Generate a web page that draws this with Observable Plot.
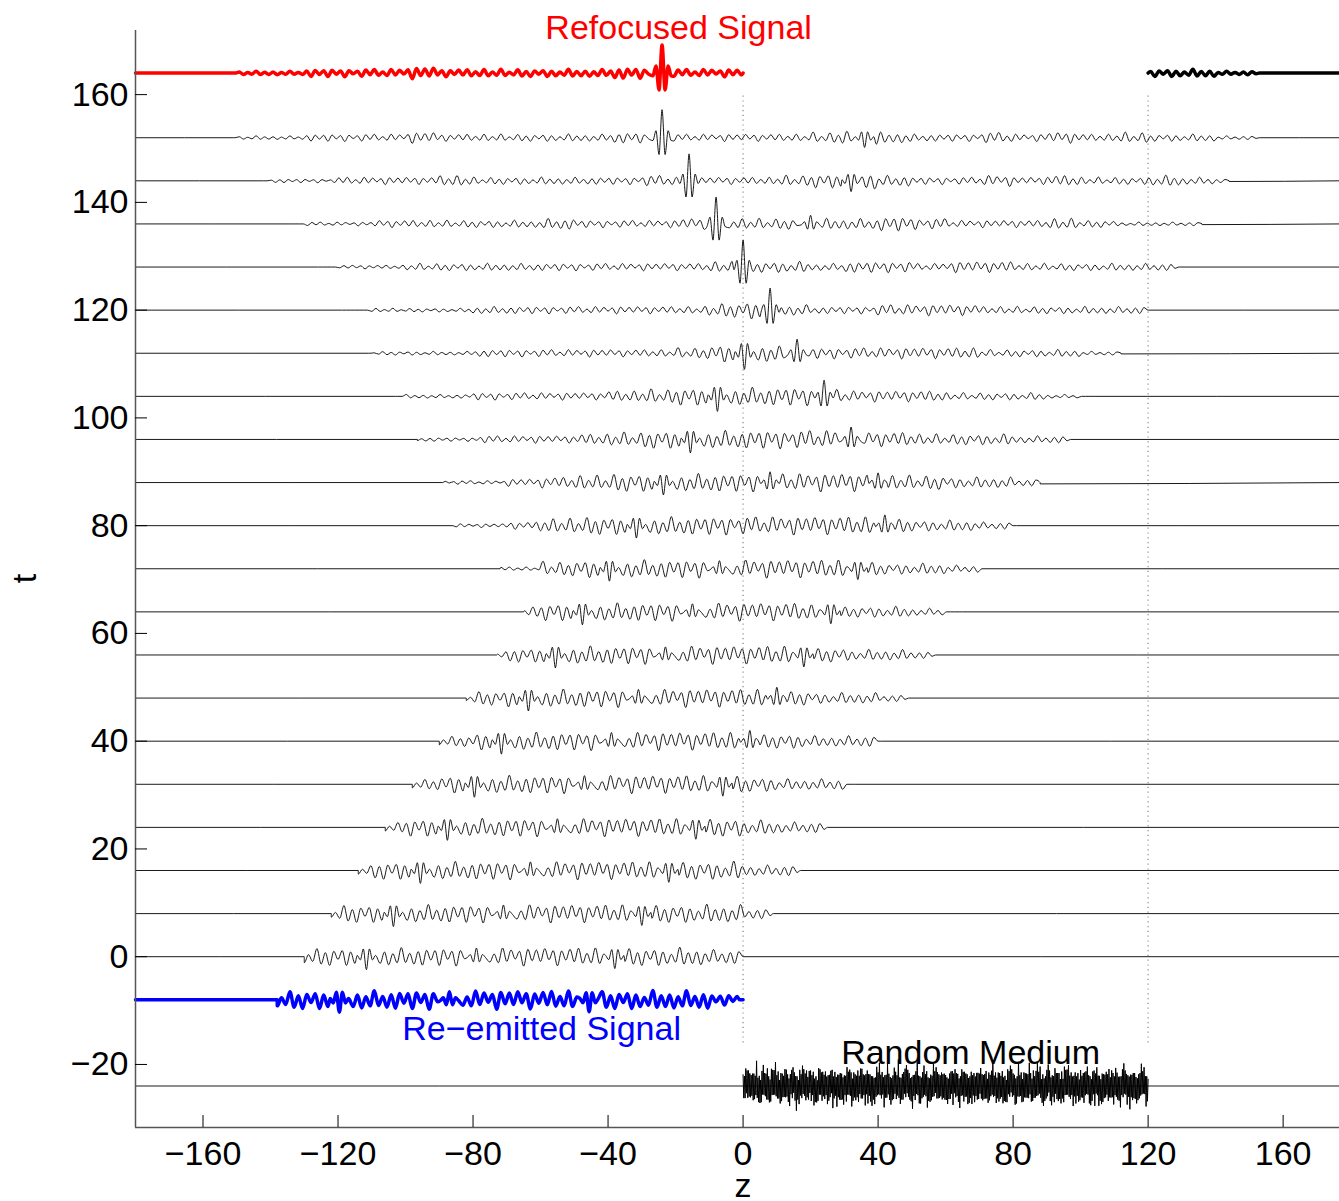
<!DOCTYPE html>
<html><head><meta charset="utf-8">
<script src="https://cdn.jsdelivr.net/npm/d3@7"></script>
<script src="https://cdn.jsdelivr.net/npm/@observablehq/plot@0.6"></script>
<style>body{margin:0;background:#fff;}</style>
</head><body><div id="chart"></div>
<script>
// ---- axes ----
const xDomain = [-180, 176.7];
const yDomain = [-31.7, 171.9];
const xTicks = [-160, -120, -80, -40, 0, 40, 80, 120, 160];
const yTicks = [-20, 0, 20, 40, 60, 80, 100, 120, 140, 160];

// ---- traces (baseline time t, texture phase, drawn span, wiggle span, envelope per 10-unit bin of z from -180) ----
const traceName  = ["refocused","tail164","t152","t144","t136","t128","t120","t112","t104","t96","t88","t80","t72","t64","t56","t48","t40","t32","t24","t16","t8","t0","reemitted","medium"];
const traceT     = [164,164,152,144,136,128,120,112,104,96,88,80,72,64,56,48,40,32,24,16,8,0,-8,-24];
const tracePhase = [152,152,152,144,136,128,120,112,104,96,88,80,72,64,56,48,40,32,24,16,8,0,-8,-24];
const traceFrom  = [-180,120,-180,-180,-180,-180,-180,-180,-180,-180,-180,-180,-180,-180,-180,-180,-180,-180,-180,-180,-180,-180,-180,-180];
const traceTo    = [0,null,null,null,null,null,null,null,null,null,null,null,null,null,null,null,null,null,null,null,null,null,0,null];
const traceL     = [-151,120,-151,-142,-134,-126,-119,-111,-103,-96.5,-89,-86,-72,-65,-73,-82,-90,-98,-106,-114,-122,-130,-138,0];
const traceR     = [0,153,153,144,136,129,120,112,104,97,88,81,72,65,57,49,41,33,25,17,9,0,-1,0];
const traceStyle = ["red","thick","thin","thin","thin","thin","thin","thin","thin","thin","thin","thin","thin","thin","thin","thin","thin","thin","thin","thin","thin","thin","blue","thin"];
const traceEnv = [
  "000112223222223222" + "223632232323221100",
  "000112223222223222" + "223632232323221100",
  "000112223222223222" + "223632232323221100",
  "000011222322222322" + "234532232322321000",
  "000001122222322233" + "333343222321110000",
  "000000112222222223" + "332332332222211000",
  "000000011122222224" + "532233322222000000",
  "000000011122222235" + "543333322211000000",
  "000000001122223455" + "554333222100000000",
  "000000001122234555" + "555443332200000000",
  "000000000112345555" + "555544332000000000",
  "000000000112455555" + "555543320000000000",
  "000000000011455555" + "555433200000000000",
  "000000000003555555" + "554332000000000000",
  "000000000024555555" + "554332000000000000",
  "000000000245555555" + "543320000000000000",
  "000000000355555555" + "443300000000000000",
  "000000003555555555" + "433000000000000000",
  "000000035555555555" + "433000000000000000",
  "000000355555555555" + "330000000000000000",
  "000003555555555555" + "300000000000000000",
  "000005555555555554" + "000000000000000000",
  "000055555555555553" + "000000000000000000",
  "000000000000000000" + "000000000000000000"
];

// ---- prominent pulses (trace t, position z, signed amplitude in t-units) ----
const pulseT = [164, 152,152, 144,144, 136,136, 128, 120, 112,112, 104,104, 96,96, 88,88,88, 80,80,
  72,72,72, 64,64,64, 56,56,56, 48,48,48, 40,40,40, 32,32,32, 24,24,24, 16,16,16, 8,8,8, 0,0,0, -8,-8,-8];
const pulseZ = [-24, -24,36, -16,32, -8,20, 0, 8, 0.4,16, -7.6,24, -15.6,32, -23.6,8,40, -31.6,42,
  -39.6,-7,34, -47.6,-15,26, -55.6,-23,18, -63.6,-31,10, -71.6,-39,2, -79.6,-47,-6, -87.6,-55,-14, -95.6,-63,-22, -103.6,-71,-30, -111.6,-79,-38, -119.6,-87,-45.6];
const pulseA = [5.2, 5.2,-1.8, 5.0,-2.0, 5.0,1.6, 5.0, 4.1, -3.0,2.6, -2.8,3.0, -2.5,2.3, -2.3,2.0,1.8, -2.3,2.0,
  -2.3,1.5,-2.0, -2.4,1.5,-2.2, -2.4,1.5,-2.2, -2.4,1.6,2.0, -2.4,1.6,2.0, -2.4,1.6,-2.2, -2.4,1.6,-2.2, -2.4,1.6,-2.2, -2.4,1.6,-2.2, -2.4,1.6,-2.2, -2.3,1.5,-2.2];
const pulseShape = [-0.1, 0.25, -0.6, 1, -0.6, 0.25, -0.1];

// ---- coda texture: relative heights of successive half-cycles ----
const texture = [0.5,0.9,1.3,1.0,0.4,0.8,1.4,0.9,0.3,0.7,1.2,1.1,0.6,1.3,0.8,0.4,0.9,1.3,0.7,1.0,0.35,0.8,1.4,1.1,0.6,1.0,0.7,1.2,0.45,0.9,1.35,0.85,0.5,1.1,0.75,1.25,0.95];

// ---- random medium (t = -24, z in [0,120]) ----
const mediumT = -24;
const mediumEdges = [0, 120];
const dottedSpan = [-16, 160];
const noiseA = [2.1,2.8,1.6,2.5,3.1,1.9,2.4,2.2,3.6,1.7,2.6,2.0,2.9,1.5,2.3,3.3,2.0,2.7,1.8,2.4,3.9,2.2,1.9,2.6,2.1,3.0,1.6,2.5,2.8,2.0,3.4,1.8,2.3,2.7,1.9,2.5,4.1,2.2,2.0,2.9,1.7,2.4,3.2,2.1,2.6,1.8,2.8,2.3,3.7,1.9,2.5,2.0,3.0,2.2,1.6,2.7,2.4,3.5,2.0,2.3,1.8,2.9,2.6,2.1,3.8,1.7,2.4,2.8,2.0,3.1,2.2,1.9,2.6,2.5,3.3,1.8,2.1,2.7,2.3,4.0,2.0,2.4,1.6,2.8,3.0,2.2,1.9,2.5,3.6,2.1,2.6,1.8,2.9,2.3,3.2,2.0,2.4];
const noiseB = [1.0,0.8,1.15,0.9,1.05,0.7,1.2];

// ---- labels ----
const labelText  = ["Refocused Signal", "Re\u2212emitted Signal", "Random Medium"];
const labelZ     = [-19.1, -59.7, 67.4];
const labelT     = [170.4, -15.4, -19.9];
const labelColor = ["#ff0000", "#0000ff", "#000000"];

// ---- build line rows ----
const h = 1.25;
const n = texture.length;
const rows = [];
traceT.forEach((T, k) => {
  const phase = tracePhase[k], env = traceEnv[k];
  const from = traceFrom[k], to = traceTo[k] == null ? xDomain[1] : traceTo[k];
  const L = traceL[k], R = traceR[k];
  const mine = pulseT.map((t, j) => j).filter(j => pulseT[j] === T && pulseZ[j] >= from && pulseZ[j] <= to);
  const pts = [{z: from, y: T}, {z: to, y: T}];
  if (L > from && L < to) pts.push({z: L, y: T});
  if (R < to && R > from) pts.push({z: R, y: T});
  const i0 = Math.ceil((L - phase) / h), i1 = Math.floor((R - phase) / h);
  for (let i = i0; i <= i1; i++) {
    const z = phase + i * h;
    if (z <= from || z >= to) continue;
    if (mine.some(j => Math.abs(z - pulseZ[j]) < 3.0)) continue;
    const bin = Math.min(35, Math.max(0, Math.floor((z + 180) / 10)));
    const a = (+env[bin]) * 0.25 * texture[((i % n) + n) % n];
    pts.push({z, y: T + (i % 2 === 0 ? -a : a)});
  }
  mine.forEach(j => pulseShape.forEach((s, m) => {
    const z = pulseZ[j] + (m - 3) * 0.9;
    if (z > from && z < to) pts.push({z, y: T + pulseA[j] * s});
  }));
  pts.sort((a, b) => a.z - b.z);
  pts.forEach(p => rows.push({z: p.z, y: p.y, key: traceName[k], style: traceStyle[k]}));
});

const noiseRows = [];
for (let i = 0; i * 0.2 <= mediumEdges[1] + 1e-9; i++) {
  const a = noiseA[i % noiseA.length] * noiseB[i % noiseB.length];
  noiseRows.push({z: i * 0.2, y: mediumT + (i % 2 === 0 ? a : -a)});
}

const font = "'Liberation Sans', Arial, Helvetica, sans-serif";
const chart = Plot.plot({
  width: 1339, height: 1201,
  marginLeft: 135, marginRight: 0, marginTop: 30, marginBottom: 74,
  x: {domain: xDomain},
  y: {domain: yDomain},
  color: {type: "identity"},
  style: {fontFamily: font, fontSize: "34px", color: "#000", background: "#fff", overflow: "visible"},
  marks: [
    Plot.ruleX(mediumEdges, {y1: dottedSpan[0], y2: dottedSpan[1], stroke: "#8a8a8a", strokeWidth: 1.2, strokeDasharray: "1.2,3.6"}),
    Plot.line(rows.filter(d => d.style === "thin"), {x: "z", y: "y", z: "key", stroke: "#000", strokeWidth: 0.9, curve: "monotone-x"}),
    Plot.line(noiseRows, {x: "z", y: "y", stroke: "#000", strokeWidth: 1}),
    Plot.line(rows.filter(d => d.style === "red"), {x: "z", y: "y", z: "key", stroke: "#ff0000", strokeWidth: 3.5, curve: "monotone-x"}),
    Plot.line(rows.filter(d => d.style === "thick"), {x: "z", y: "y", z: "key", stroke: "#000", strokeWidth: 3.5, curve: "monotone-x"}),
    Plot.line(rows.filter(d => d.style === "blue"), {x: "z", y: "y", z: "key", stroke: "#0000ff", strokeWidth: 3.5, curve: "monotone-x"}),
    Plot.text(labelText, {x: (d, i) => labelZ[i], y: (d, i) => labelT[i], fill: (d, i) => labelColor[i], fontSize: 34, fontFamily: font, lineAnchor: "bottom", textAnchor: "middle"}),
    Plot.ruleX([xDomain[0]], {stroke: "#555", strokeWidth: 1.5}),
    Plot.ruleY([yDomain[0]], {stroke: "#555", strokeWidth: 1.5}),
    Plot.axisX({ticks: xTicks, tickSize: 0, tickPadding: 13, label: null, fontSize: 34}),
    Plot.axisX({ticks: xTicks, tickSize: 12, dy: -12, tickFormat: () => "", label: null, stroke: "#000"}),
    Plot.axisY({ticks: yTicks, tickSize: 0, tickPadding: 7, label: null, fontSize: 34}),
    Plot.axisY({ticks: yTicks, tickSize: 12, dx: 12, tickFormat: () => "", label: null, stroke: "#000"}),
    Plot.text(["z"], {x: 0, y: -44.6, fontSize: 34, fontFamily: font, lineAnchor: "bottom"}),
    Plot.text(["t"], {x: -212.6, y: 70.2, fontSize: 34, fontFamily: font, rotate: -90})
  ]
});
document.getElementById("chart").append(chart);
</script>
</body></html>
